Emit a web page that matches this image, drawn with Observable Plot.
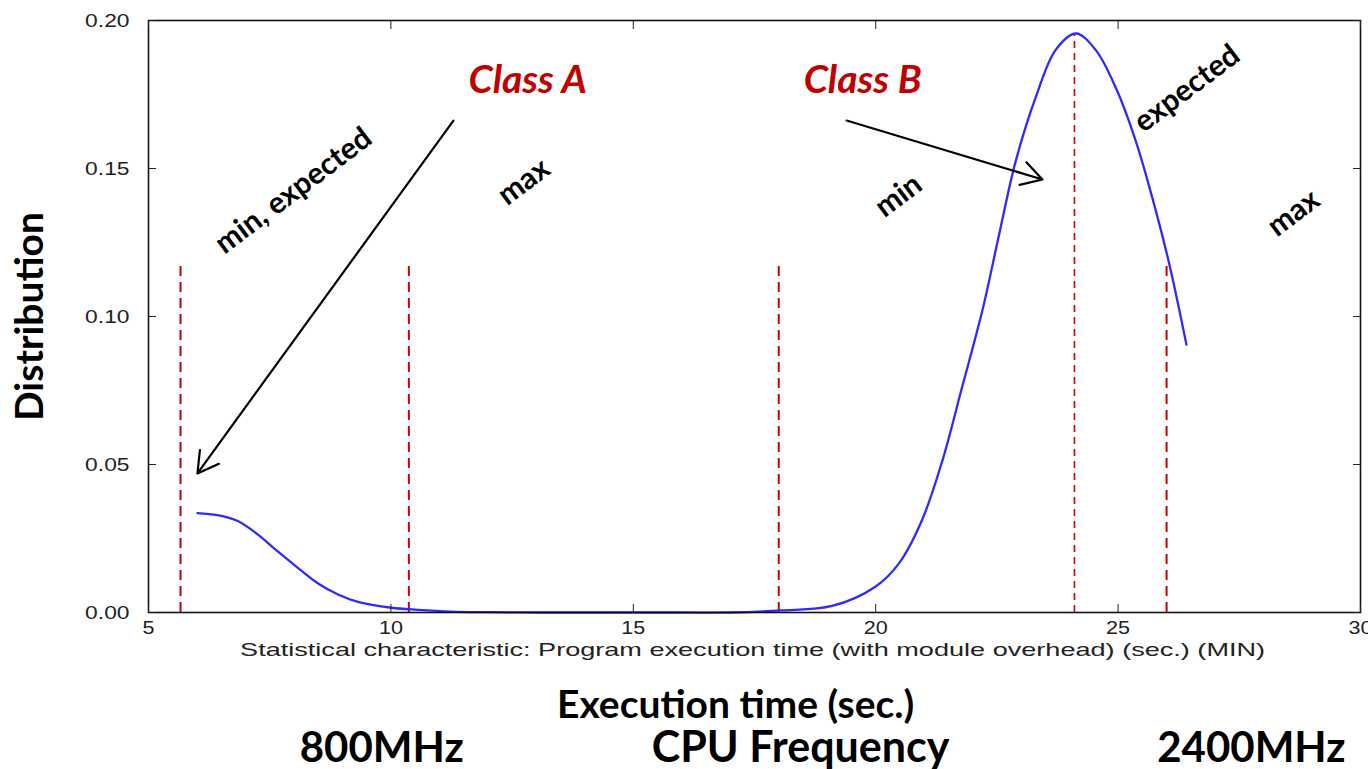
<!DOCTYPE html>
<html>
<head>
<meta charset="utf-8">
<script src="https://cdn.jsdelivr.net/npm/d3@7"></script>
<script src="https://cdn.jsdelivr.net/npm/@observablehq/plot@0.6"></script>
<style>
  html, body { margin: 0; padding: 0; background: #fff; }
  #chart svg { display: block; }
</style>
</head>
<body>
<div id="chart"></div>
<script>
// ---- data ----
const execTime = [6.01, 6.42, 6.84, 7.25, 7.66, 8.08, 8.49, 8.91, 9.32, 10.01, 10.56, 11.25, 12.0, 13.0, 14.0, 15.0, 16.0, 17.0, 18.05,
                  19.1, 20.0, 20.48, 20.95, 21.37, 21.78, 22.2, 22.55, 22.88, 23.3, 23.71, 24.13, 24.54, 24.96, 25.37, 25.79, 26.08, 26.41];
const distribution = [0.0336, 0.0329, 0.0309, 0.0264, 0.0207, 0.0151, 0.0099, 0.0061, 0.0036, 0.0016, 0.0009, 0.0003, 0.0001, 0, 0, 0, 0, 0, 0.0007,
                  0.0022, 0.0088, 0.0166, 0.031, 0.051, 0.076, 0.102, 0.128, 0.152, 0.174, 0.190, 0.1956, 0.190, 0.177, 0.159, 0.135, 0.116, 0.0905];

const markerTimes   = [5.66, 10.37, 18.0, 24.1, 26.0];
const markerHeights = [0.118, 0.118, 0.118, 0.1956, 0.118];
const markerLabels  = ["min, expected", "max", "min", "expected", "max"];

const classNames = ["Class A", "Class B"];

const xTicks = [5, 10, 15, 20, 25, 30];
const yTicks = [0.00, 0.05, 0.10, 0.15, 0.20];

const xCaption = "Statistical characteristic: Program execution time (with module overhead) (sec.) (MIN)";
const xTitle = "Execution time (sec.)";
const yTitle = "Distribution";
const freqLabels = ["800MHz", "CPU Frequency", "2400MHz"];

// ---- build tables ----
const curve = execTime.map((t, i) => ({t, d: distribution[i]}));
const markers = markerTimes.map((t, i) => ({t, h: markerHeights[i]}));

const boldFont = "Lato, 'Open Sans', sans-serif";
const axisFont = "'Liberation Sans', Arial, sans-serif";
const red = "#c00000";
const labelStyle = {fontSize: 30, fontWeight: 700, fontFamily: boldFont, fill: "#000", rotate: -37, textAnchor: "middle", lineAnchor: "middle"};
const bottomStyle = {frameAnchor: "bottom", textAnchor: "middle", lineAnchor: "middle", fontWeight: 700, fontFamily: boldFont, fill: "#000"};

const plot = Plot.plot({
  width: 1368,
  height: 769,
  marginLeft: 148,
  marginRight: 8,
  marginTop: 20,
  marginBottom: 157,
  style: {fontFamily: axisFont, background: "#fff", overflow: "visible"},
  x: {domain: [5, 30]},
  y: {domain: [0, 0.2]},
  marks: [
    // red dashed markers
    Plot.ruleX(markers.filter((d, i) => i !== 3), {x: "t", y1: 0, y2: "h", stroke: "#cc0000", strokeWidth: 2, strokeDasharray: "10,6"}),
    Plot.ruleX(markers.filter((d, i) => i === 3), {x: "t", y1: 0, y2: "h", stroke: "#cc0000", strokeWidth: 1.6, strokeDasharray: "7,5"}),
    // distribution curve
    Plot.line(curve, {x: "t", y: "d", stroke: "#2b2bff", strokeWidth: 2.3, curve: "catmull-rom"}),
    // frame and axes (matplotlib-style inward ticks on all sides)
    Plot.frame({stroke: "#111", strokeWidth: 1.6}),
    Plot.axisX(xTicks, {anchor: "bottom", tickSize: -8, tickPadding: 17, fontSize: 18, color: "#222", label: null, tickFormat: d => String(d)}),
    Plot.axisX(xTicks, {anchor: "top", tickSize: -8, color: "#222", label: null, tickFormat: () => ""}),
    Plot.axisY(yTicks, {anchor: "left", tickSize: -8, tickPadding: 27, fontSize: 19, color: "#222", label: null, tickFormat: d3.format(".2f")}),
    Plot.axisY(yTicks, {anchor: "right", tickSize: -8, color: "#222", label: null, tickFormat: () => ""}),
    // rotated marker labels
    Plot.text([markerLabels[0]], {x: 7.99, y: 0.1425, text: d => d, ...labelStyle}),
    Plot.text([markerLabels[1]], {x: 12.74, y: 0.1455, text: d => d, ...labelStyle}),
    Plot.text([markerLabels[2]], {x: 20.47, y: 0.1408, text: d => d, ...labelStyle}),
    Plot.text([markerLabels[3]], {x: 26.42, y: 0.1770, text: d => d, ...labelStyle}),
    Plot.text([markerLabels[4]], {x: 28.62, y: 0.1350, text: d => d, ...labelStyle}),
    // class labels and arrows
    Plot.text([classNames[0]], {x: 12.82, y: 0.1797, text: d => d, fontSize: 39, fontWeight: 700, fontStyle: "italic", fontFamily: boldFont, fill: red}),
    Plot.text([classNames[1]], {x: 19.73, y: 0.1797, text: d => d, fontSize: 39, fontWeight: 700, fontStyle: "italic", fontFamily: boldFont, fill: red}),
    Plot.arrow([{x1: 11.29, y1: 0.1662, x2: 6.01, y2: 0.0470}], {x1: "x1", y1: "y1", x2: "x2", y2: "y2", stroke: "#000", strokeWidth: 2.2, headLength: 16, insetStart: 0, insetEnd: 0}),
    Plot.arrow([{x1: 19.40, y1: 0.1662, x2: 23.44, y2: 0.1463}], {x1: "x1", y1: "y1", x2: "x2", y2: "y2", stroke: "#000", strokeWidth: 2.2, headLength: 16, insetStart: 0, insetEnd: 0}),
    // captions below / left
    Plot.text([xCaption], {x: 17.46, frameAnchor: "bottom", textAnchor: "middle", lineAnchor: "middle", dy: 37, text: d => d, fontSize: 19, fill: "#222", fontFamily: axisFont, className: "xcaption"}),
    Plot.text([xTitle], {x: 17.11, dy: 93, text: d => d, fontSize: 39, ...bottomStyle}),
    Plot.text([freqLabels[0]], {x: 9.81, dy: 136, text: d => d, fontSize: 42, ...bottomStyle}),
    Plot.text([freqLabels[1]], {x: 18.45, dy: 136, text: d => d, fontSize: 43, ...bottomStyle}),
    Plot.text([freqLabels[2]], {x: 27.75, dy: 136, text: d => d, fontSize: 42, ...bottomStyle}),
    Plot.text([yTitle], {frameAnchor: "left", textAnchor: "middle", lineAnchor: "middle", dx: -118, rotate: -90, text: d => d, fontSize: 39, fontWeight: 700, fontFamily: boldFont, fill: "#000"})
  ]
});

document.getElementById("chart").appendChild(plot);

// horizontally widen the matplotlib-style texts to match the reference
const svg = d3.select(plot);
svg.selectAll(".xcaption text").each(function() {
  this.setAttribute("textLength", 1025);
  this.setAttribute("lengthAdjust", "spacingAndGlyphs");
});
svg.selectAll('g[aria-label="x-axis tick label"] text, g[aria-label="y-axis tick label"] text').each(function() {
  const w = this.getComputedTextLength();
  if (w > 0) {
    this.setAttribute("textLength", (w * 1.2).toFixed(1));
    this.setAttribute("lengthAdjust", "spacingAndGlyphs");
  }
});
</script>
</body>
</html>
